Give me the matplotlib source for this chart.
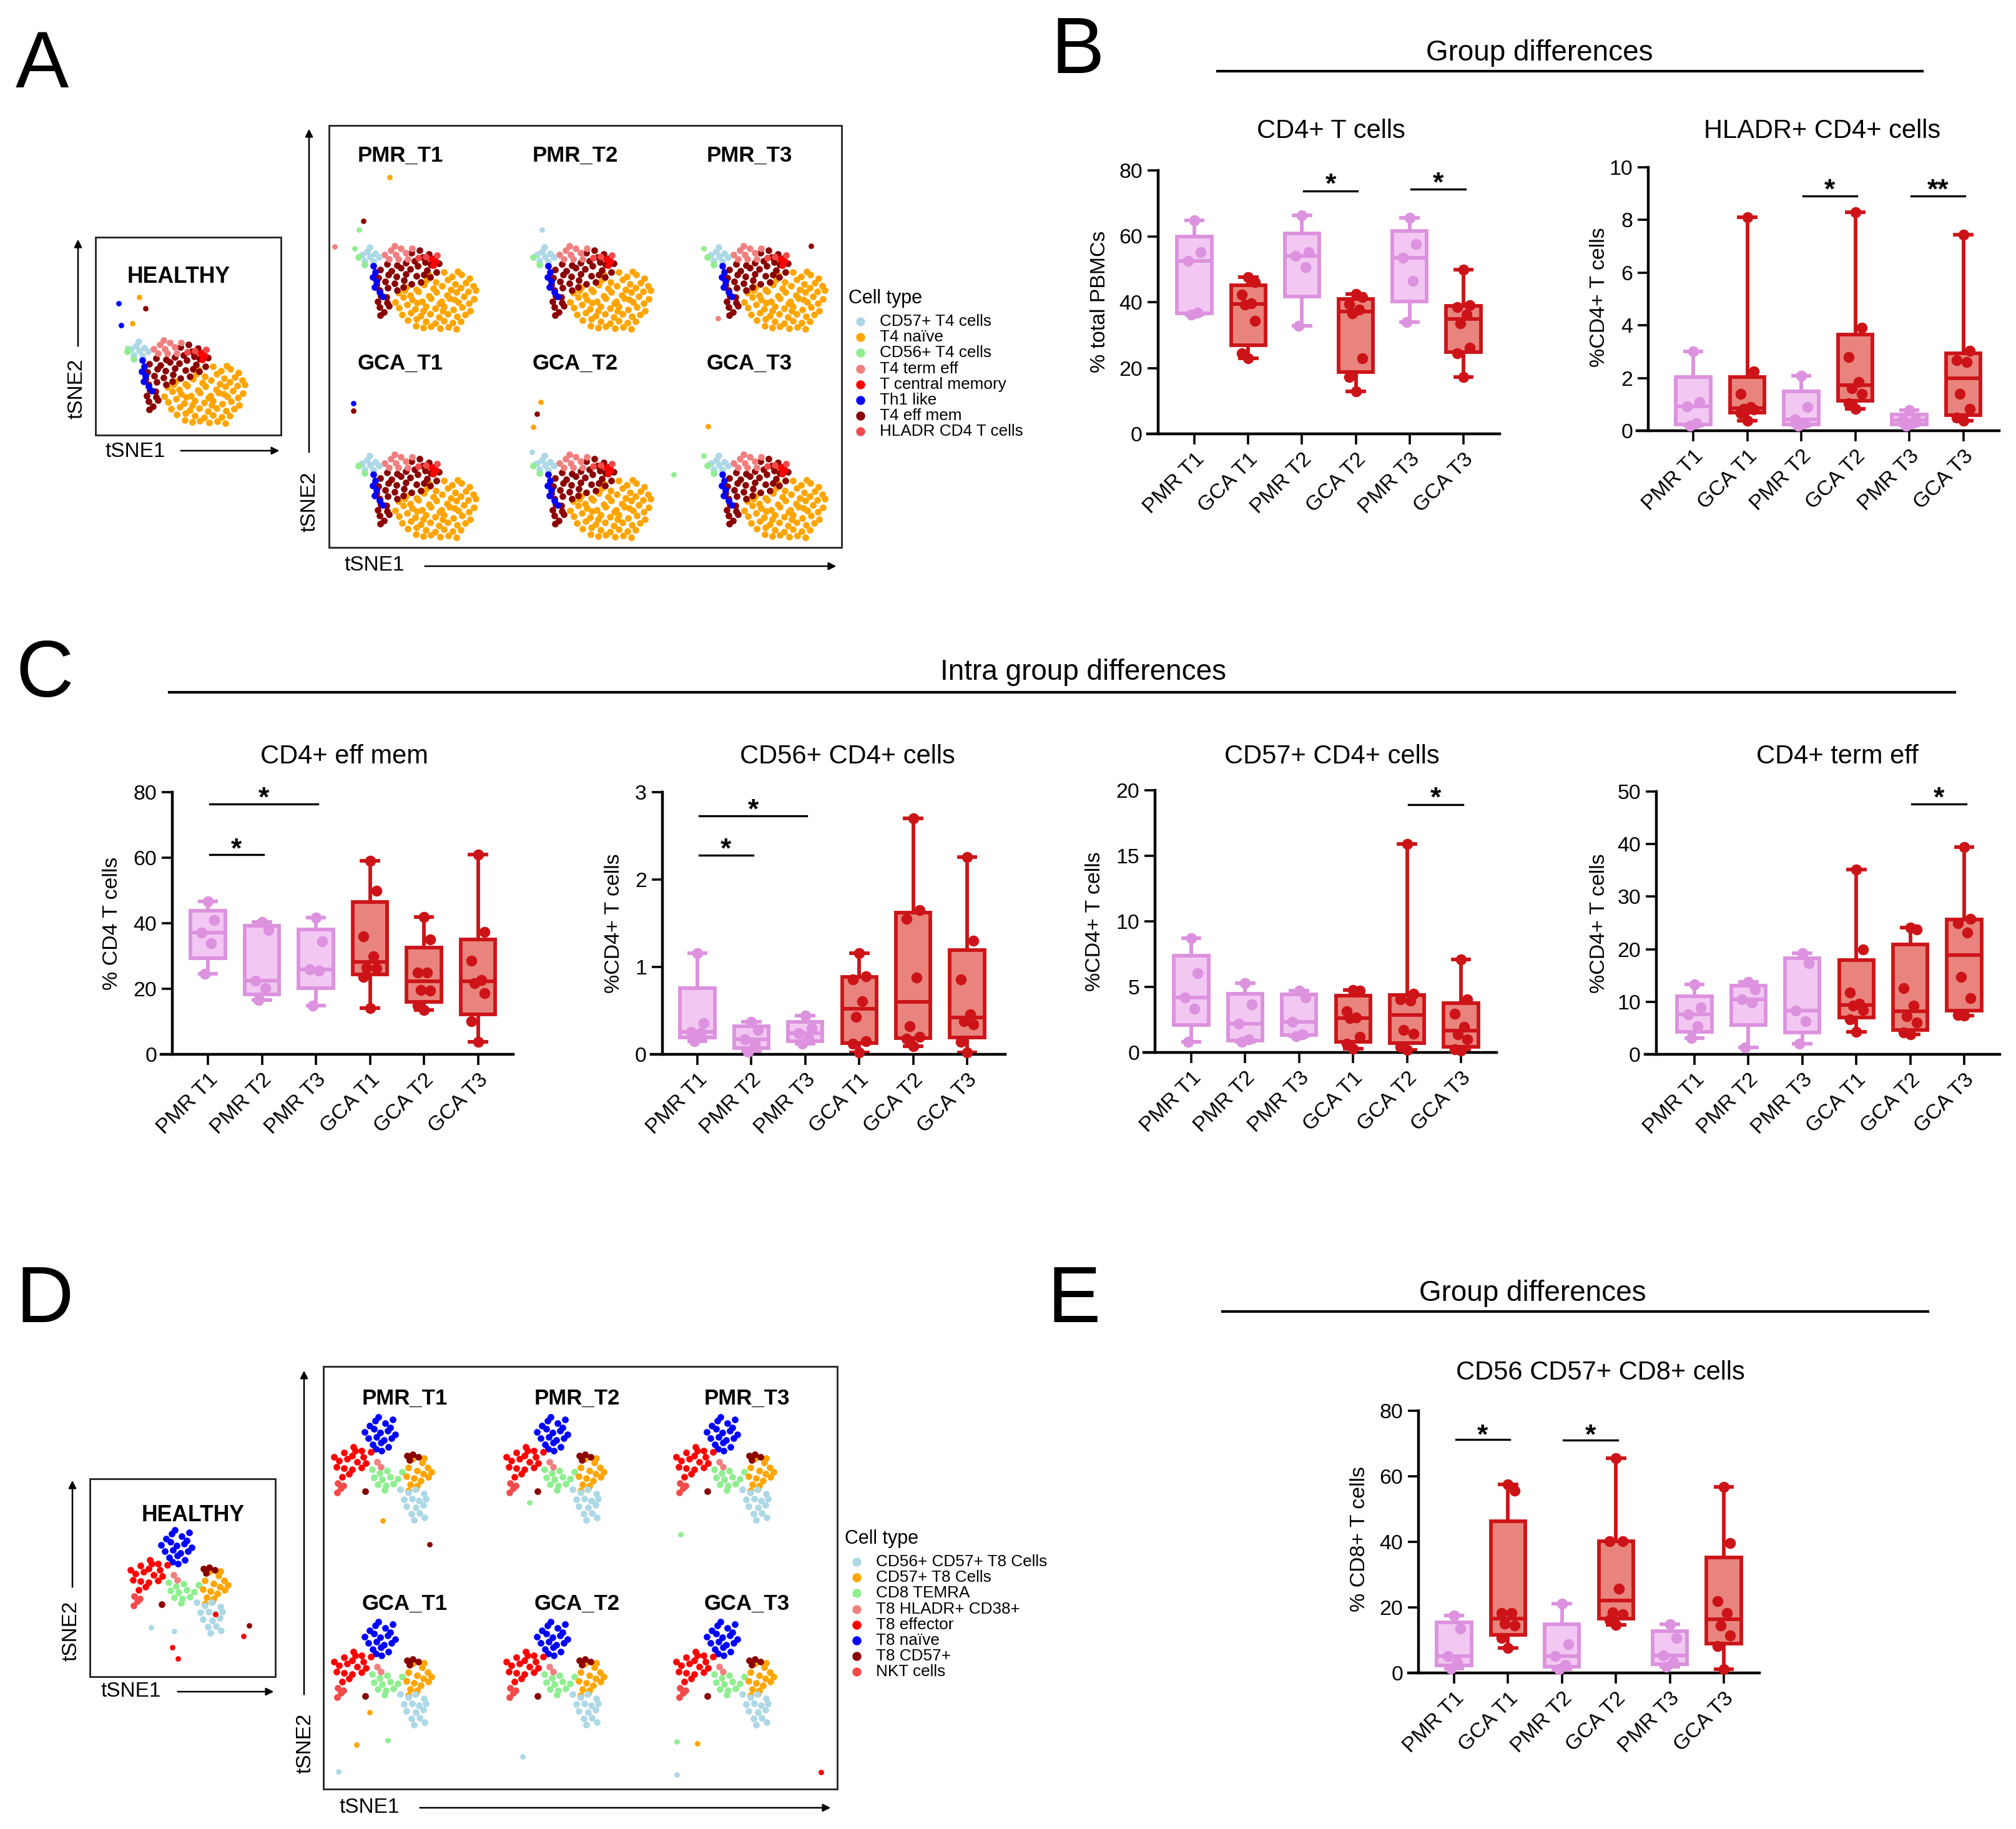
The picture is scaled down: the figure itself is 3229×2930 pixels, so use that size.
import numpy as np
import matplotlib.pyplot as plt
from matplotlib.patches import Rectangle, FancyArrowPatch
from matplotlib.lines import Line2D

plt.rcParams['font.family'] = ['Liberation Sans', 'DejaVu Sans']

W, H = 3229, 2930
DPI = 200

# ---------------- box plot data ----------------
grp_b = ["PMR T1", "GCA T1", "PMR T2", "GCA T2", "PMR T3", "GCA T3"]
grp_c = ["PMR T1", "PMR T2", "PMR T3", "GCA T1", "GCA T2", "GCA T3"]

cd4_tcells = [[64.8, 55.1, 52.6, 36.8, 36.2],
              [47.6, 46.0, 42.3, 39.6, 39.2, 34.4, 24.4, 23.0],
              [66.4, 55.2, 54.0, 50.7, 32.8],
              [42.5, 41.5, 39.4, 37.7, 36.5, 23.0, 17.3, 12.8],
              [65.5, 57.6, 53.4, 46.5, 33.9],
              [49.9, 39.0, 38.5, 36.2, 33.6, 26.2, 24.4, 17.3]]

hladr_cd4 = [[3.0, 1.09, 0.92, 0.28, 0.2],
             [8.1, 2.24, 1.39, 0.90, 0.82, 0.80, 0.66, 0.39],
             [2.08, 0.89, 0.43, 0.28, 0.2],
             [8.3, 3.92, 2.8, 1.84, 1.62, 1.40, 1.05, 0.83],
             [0.79, 0.42, 0.40, 0.28, 0.2],
             [7.45, 3.03, 2.67, 2.6, 1.39, 0.83, 0.50, 0.39]]

eff_mem = [[46.7, 40.9, 37.1, 34.0, 24.5],
           [40.4, 38.0, 22.5, 20.1, 16.6],
           [41.7, 34.5, 25.9, 25.5, 14.9],
           [59.0, 49.9, 36.0, 30.0, 26.4, 26.2, 23.7, 14.1],
           [41.9, 35.1, 25.0, 25.0, 19.7, 19.4, 14.9, 13.6],
           [61.0, 37.3, 28.5, 22.7, 21.7, 18.7, 10.1, 3.8]]

cd56_cd4 = [[1.16, 0.36, 0.26, 0.24, 0.15],
            [0.37, 0.28, 0.17, 0.12, 0.03],
            [0.44, 0.30, 0.24, 0.18, 0.12],
            [1.16, 0.89, 0.86, 0.61, 0.43, 0.15, 0.12, 0.02],
            [2.70, 1.65, 1.55, 0.88, 0.32, 0.20, 0.18, 0.09],
            [2.26, 1.30, 0.86, 0.46, 0.38, 0.34, 0.14, 0.02]]

cd57_cd4 = [[8.73, 6.04, 4.20, 3.32, 0.83],
            [5.28, 3.65, 2.19, 1.0, 0.8],
            [4.70, 4.20, 2.31, 1.38, 1.26],
            [4.78, 4.70, 3.14, 2.68, 2.60, 1.21, 0.68, 0.30],
            [15.9, 4.5, 4.05, 3.97, 1.71, 1.45, 0.45, 0.2],
            [7.1, 4.03, 2.97, 1.96, 1.38, 1.0, 0.25, 0.13]]

term_eff = [[13.3, 8.9, 7.55, 5.35, 3.1],
            [13.8, 12.4, 10.4, 9.9, 1.26],
            [19.2, 17.3, 8.3, 6.3, 2.0],
            [35.2, 20.0, 11.8, 9.6, 9.25, 8.4, 6.6, 4.28],
            [24.1, 23.7, 12.6, 9.25, 7.2, 6.0, 4.1, 3.8],
            [39.4, 25.8, 25.0, 23.1, 14.7, 10.7, 7.5, 7.4]]

cd8_cd56_cd57 = [[17.5, 13.5, 5.2, 3.2, 1.4],
                 [57.6, 55.6, 18.2, 18.2, 15.0, 14.4, 10.6, 7.7],
                 [21.1, 8.7, 5.2, 2.5, 1.15],
                 [65.5, 40.1, 40.1, 25.7, 18.5, 17.9, 16.2, 14.7],
                 [14.8, 10.6, 5.4, 3.5, 2.0],
                 [56.8, 39.6, 21.9, 18.2, 14.4, 11.5, 8.1, 1.15]]

# (group i, group j, bar height, star height, text)
sig_b1 = [(2, 3, 73.7, 78.2, '*'), (4, 5, 74.3, 78.6, '*')]
sig_b2 = [(2, 3, 8.9, 9.45, '*'), (4, 5, 8.9, 9.45, '**')]
sig_c1 = [(0, 1, 61.0, 65.1, '*'), (0, 2, 76.4, 80.7, '*')]
sig_c2 = [(0, 1, 2.28, 2.44, '*'), (0, 2, 2.73, 2.89, '*')]
sig_c3 = [(4, 5, 18.9, 20.0, '*')]
sig_c4 = [(4, 5, 47.6, 50.3, '*')]
sig_e = [(0, 1, 71.2, 75.0, '*'), (2, 3, 71.0, 75.0, '*')]

# ---------------- tSNE data (cluster layouts) ----------------
cd4_types = ["CD57+ T4 cells", "T4 naïve", "CD56+ T4 cells", "T4 term eff",
             "T central memory", "Th1 like", "T4 eff mem", "HLADR CD4 T cells"]
cd4_colors = ["#add8e6", "#ffa500", "#90ee90", "#f08080",
              "#ff0000", "#0000ff", "#8b0000", "#f24a4a"]

cd4_naive = [(16.3, 9.8), (17.6, 9.1), (19.1, 9.4), (20.4, 8.8), (18.5, 9.9),
             (13.6, 8.6), (15.0, 8.2), (16.9, 8.6), (18.1, 7.9), (19.8, 8.1), (21.0, 7.6),
             (10.3, 7.4), (11.9, 7.0), (13.1, 7.8), (14.6, 7.2), (16.0, 7.6), (17.4, 7.0), (19.0, 7.3), (20.2, 6.7),
             (9.0, 6.5), (10.9, 6.1), (12.2, 6.7), (13.9, 6.0), (15.1, 6.6), (16.8, 6.1), (18.3, 6.6), (19.5, 5.9), (21.1, 5.5),
             (8.5, 5.0), (9.8, 5.8), (11.2, 5.4), (12.8, 5.1), (14.2, 5.6), (15.9, 5.1), (17.2, 5.6), (18.6, 5.0), (20.3, 4.8),
             (9.1, 4.1), (10.4, 4.6), (11.7, 3.9), (13.4, 4.3), (14.9, 4.0), (16.3, 4.3), (17.8, 3.8), (19.2, 4.2), (20.5, 3.6),
             (9.6, 3.0), (11.0, 3.3), (12.6, 2.8), (14.1, 3.1), (15.5, 2.6), (16.9, 3.1), (18.4, 2.7), (19.7, 3.0),
             (10.5, 2.1), (11.9, 2.3), (13.4, 1.9), (14.9, 1.6), (16.3, 2.0), (17.7, 1.7), (19.0, 1.9),
             (11.8, 1.2), (13.0, 0.9), (14.2, 1.1), (15.7, 0.8), (17.0, 1.0), (18.3, 0.7), (16.1, 3.6), (12.0, 4.9),
             (14.0, 9.3), (21.4, 6.9), (10.0, 6.9), (15.6, 4.8), (18.0, 5.4), (13.0, 3.6)]
cd4_effmem = [(11.1, 12.9), (12.4, 13.3), (13.9, 12.7), (14.7, 12.0), (12.9, 12.2),
              (11.6, 11.6), (13.3, 11.4), (14.2, 11.0), (15.5, 11.2), (7.2, 11.1), (8.8, 10.9), (10.2, 11.3),
              (6.1, 10.2), (7.9, 10.0), (9.4, 10.5), (10.9, 10.3), (12.1, 10.8), (13.6, 10.1), (15.1, 9.8),
              (5.8, 8.9), (7.4, 9.4), (8.7, 9.1), (10.2, 9.5), (11.9, 9.2), (13.1, 9.4), (14.1, 9.0),
              (5.5, 7.8), (6.9, 8.3), (8.4, 8.0), (9.9, 8.5), (11.1, 7.9), (12.6, 8.2),
              (6.0, 6.9), (7.3, 7.3), (8.8, 6.9), (9.8, 7.4),
              (6.2, 6.0), (7.1, 5.8), (5.7, 5.1), (7.2, 4.9), (6.0, 4.2), (7.5, 4.4), (6.7, 3.4), (6.1, 2.9)]
cd4_termeff = [(6.8, 12.6), (7.8, 13.3), (8.6, 12.6), (9.4, 13.6), (10.2, 12.9),
               (7.5, 11.9), (9.0, 11.9), (10.5, 11.9), (11.2, 13.6), (8.4, 14.0)]
cd4_cd57 = [(3.2, 12.6), (4.0, 13.1), (4.5, 12.3), (5.3, 12.8), (3.6, 11.6), (5.0, 11.5), (5.9, 12.2), (4.4, 13.8)]
cd4_th1 = [(5.0, 10.8), (5.3, 9.8), (4.9, 9.0), (5.5, 8.3), (5.2, 7.4), (6.0, 6.6), (6.5, 5.9)]
cd4_tcm = [(14.3, 11.9), (15.0, 11.5), (14.6, 10.9)]
cd4_hladr = [(13.4, 12.3), (15.2, 12.5), (12.2, 12.1)]
cd4_cd56 = [(3.6, 11.0), (2.6, 12.2)]
# drawing order -> legend index
cd4_layers = [(cd4_naive, 1), (cd4_effmem, 6), (cd4_termeff, 3), (cd4_cd57, 0),
              (cd4_th1, 5), (cd4_tcm, 4), (cd4_hladr, 7), (cd4_cd56, 2)]

# stray cells per sample (x, y, type index)
cd4_out_healthy = [(1.2, 19.9, 5), (4.5, 20.9, 1), (5.5, 19.1, 6), (1.6, 16.4, 5), (3.4, 16.7, 1), (2.6, 12.7, 2)]
cd4_out = {"PMR_T1": [(7.6, 25.0, 1), (3.4, 18.0, 6), (2.7, 16.6, 2), (2.0, 13.6, 2), (-1.2, 13.9, 3)],
           "PMR_T2": [(4.0, 16.6, 0)],
           "PMR_T3": [(19.2, 14.0, 6), (2.0, 13.6, 2), (4.3, 2.4, 3)],
           "GCA_T1": [(1.8, 22.2, 5), (1.8, 21.0, 6)],
           "GCA_T2": [(3.8, 22.4, 1), (3.2, 20.5, 6), (2.6, 18.4, 1), (25.1, 10.8, 2), (2.4, 14.4, 0)],
           "GCA_T3": [(2.7, 18.5, 1), (2.0, 13.8, 2)]}

cd8_types = ["CD56+ CD57+ T8 Cells", "CD57+ T8 Cells", "CD8 TEMRA", "T8 HLADR+ CD38+",
             "T8 effector", "T8 naïve", "T8 CD57+", "NKT cells"]
cd8_colors = ["#add8e6", "#ffa500", "#90ee90", "#f08080",
              "#ff0000", "#0000ff", "#8b0000", "#f24a4a"]

cd8_naive = [(7.2, 20.6), (8.1, 21.4), (9.7, 21.0), (10.5, 20.3), (8.6, 22.0), (10.9, 21.6),
             (6.4, 19.6), (7.9, 20.1), (8.9, 19.5), (10.1, 19.8), (11.3, 19.2),
             (7.0, 18.6), (8.3, 18.8), (9.5, 18.3), (10.7, 18.6),
             (7.7, 17.6), (9.0, 17.9), (10.2, 17.2), (9.1, 16.6), (8.2, 16.9)]
cd8_effector = [(4.6, 17.2), (5.9, 16.6), (3.1, 16.3), (4.4, 15.8), (6.2, 15.6), (7.4, 16.4),
                (2.3, 15.0), (3.6, 15.3), (5.2, 14.8), (6.6, 14.6), (1.5, 15.6),
                (1.9, 14.0), (3.1, 13.8), (4.4, 13.6), (5.9, 13.9), (3.9, 12.9), (2.8, 12.4), (4.9, 16.6)]
cd8_hladr = [(8.4, 14.8), (9.0, 14.0)]
cd8_temra = [(7.6, 13.6), (8.8, 13.0), (10.0, 13.4), (7.9, 12.3), (9.2, 12.0), (10.5, 12.4),
             (11.7, 12.1), (8.5, 11.2), (9.8, 11.0), (11.0, 11.3), (9.6, 10.3), (12.4, 13.2)]
cd8_cd57 = [(14.1, 15.3), (15.6, 14.7), (16.5, 13.9), (13.4, 13.9), (14.8, 13.4), (15.8, 12.9),
            (17.1, 13.2), (13.1, 12.5), (14.3, 12.2), (15.4, 11.8), (16.6, 12.4), (13.7, 11.2),
            (14.8, 11.0), (13.4, 10.2), (14.6, 10.5), (15.9, 15.4)]
cd8_t8cd57 = [(13.2, 15.8), (14.1, 16.0), (15.0, 15.6), (13.6, 15.1), (6.5, 10.1)]
cd8_cd56cd57 = [(12.1, 10.4), (13.4, 9.9), (14.5, 10.4), (15.9, 9.7), (12.7, 8.8), (14.0, 8.9),
                (15.1, 8.6), (16.2, 8.9), (13.1, 7.7), (14.6, 7.5), (15.8, 7.9), (13.9, 6.5),
                (15.2, 6.6), (14.3, 5.5), (16.0, 5.9)]
cd8_nkt = [(2.1, 11.4), (2.6, 10.6), (2.0, 9.9), (3.0, 11.0)]
cd8_layers = [(cd8_naive, 5), (cd8_effector, 4), (cd8_temra, 2), (cd8_cd57, 1), (cd8_t8cd57, 6),
              (cd8_hladr, 3), (cd8_cd56cd57, 0), (cd8_nkt, 7)]

cd8_out_healthy = [(4.8, 6.4, 0), (8.5, 5.8, 0), (8.2, 3.2, 4), (9.1, 1.4, 4), (20.5, 6.7, 6), (19.6, 5.0, 4), (15.1, 8.5, 4)]
cd8_out = {"PMR_T1": [(9.3, 5.4, 1), (16.8, 1.6, 6)],
           "PMR_T2": [(5.2, 8.35, 2)],
           "PMR_T3": [(2.15, 3.2, 2)],
           "GCA_T1": [(5.1, 2.3, 1), (10.1, 3.0, 2), (2.2, -2.0, 0), (7.2, 7.5, 1)],
           "GCA_T2": [(4.1, 0.4, 0)],
           "GCA_T3": [(1.6, 2.85, 2), (4.9, 2.5, 1), (1.6, -2.5, 0), (24.7, -2.1, 4)]}

samples = [["PMR_T1", "PMR_T2", "PMR_T3"], ["GCA_T1", "GCA_T2", "GCA_T3"]]

PMR_FACE, PMR_EDGE = "#f2c8f2", "#dc92de"
GCA_FACE, GCA_EDGE = "#e8847d", "#cc1418"

fig = plt.figure(figsize=(W / DPI, H / DPI), dpi=DPI)


def fx(x):
    return x / W


def fy(y):
    return 1 - y / H


def ftext(x, y, s, **kw):
    fig.text(fx(x), fy(y), s, **kw)


def hline(x1, x2, y, lw=1.5):
    fig.add_artist(Line2D([fx(x1), fx(x2)], [fy(y), fy(y)], transform=fig.transFigure, color='k', lw=lw))


def arrow(x1, y1, x2, y2):
    fig.add_artist(FancyArrowPatch((fx(x1), fy(y1)), (fx(x2), fy(y2)), transform=fig.transFigure,
                                   arrowstyle='-|>', mutation_scale=9, lw=0.9, color='k'))


def frame(x1, y1, x2, y2):
    fig.add_artist(Rectangle((fx(x1), fy(y2)), (x2 - x1) / W, (y2 - y1) / H, transform=fig.transFigure,
                             fill=False, lw=1.0, ec='#222222'))


def box_panel(spine_x, x_left, x_right, c0, sp, top, bottom, labels, data, ymax, ystep,
              title, title_x, title_y, ylabel, yl_x, yl_y, sig):
    ax = fig.add_axes([fx(x_left), fy(bottom), (x_right - x_left) / W, (bottom - top) / H])
    ax.set_xlim((x_left - c0) / sp, (x_right - c0) / sp)
    ax.set_ylim(0, ymax)
    ax.spines['left'].set_position(('data', (spine_x - c0) / sp))
    ax.spines['top'].set_visible(False)
    ax.spines['right'].set_visible(False)
    for s in ['left', 'bottom']:
        ax.spines[s].set_linewidth(1.6)
    ax.patch.set_visible(False)
    ax.tick_params(axis='both', width=1.3, length=6, labelsize=12.2, pad=3)
    ax.set_yticks(np.arange(0, ymax + ystep / 2, ystep))
    ax.set_xticks(range(len(labels)))
    ax.set_xticklabels(labels, rotation=45, ha='right', rotation_mode='anchor')
    jit = [0.0, 0.12, -0.12, 0.06, -0.06, 0.12, -0.12, 0.0]
    for i, vals in enumerate(data):
        v = np.array(vals, float)
        q1, med, q3 = np.percentile(v, [25, 50, 75], method='weibull')
        st = dict(med=med, q1=q1, q3=q3, whislo=v.min(), whishi=v.max(), fliers=[])
        if labels[i].startswith('PMR'):
            fc, ec = PMR_FACE, PMR_EDGE
        else:
            fc, ec = GCA_FACE, GCA_EDGE
        ax.bxp([st], positions=[i], widths=0.64, capwidths=0.31, patch_artist=True, showfliers=False,
               boxprops=dict(facecolor=fc, edgecolor=ec, linewidth=2.1),
               medianprops=dict(color=ec, linewidth=2.1),
               whiskerprops=dict(color=ec, linewidth=2.1),
               capprops=dict(color=ec, linewidth=2.1), manage_ticks=False)
        ax.scatter(i + np.array(jit[:len(v)]), v, s=40, color=ec, linewidths=0, zorder=3, clip_on=False)
    for i, j, yb, ys, txt in sig:
        ax.plot([i + 0.03, j + 0.03], [yb, yb], color='k', lw=1.2, clip_on=False)
        ax.annotate(txt, ((i + j) / 2 + 0.03, ys), xytext=(0, -0.58 * 16), textcoords='offset points',
                    ha='center', va='baseline', fontsize=16, fontweight='bold', annotation_clip=False)
    ftext(title_x, title_y, title, ha='center', va='baseline', fontsize=15)
    ftext(yl_x, yl_y, ylabel, rotation=90, ha='center', va='center', fontsize=12.2)
    return ax


def tsne_sub(left, bottom, layers, colors, outliers):
    ax = fig.add_axes([fx(left), fy(bottom), 240 / W, 300 / H])
    ax.set_xlim(0, 24)
    ax.set_ylim(0, 30)
    ax.axis('off')
    for pts, k in layers:
        a = np.array(pts)
        ax.scatter(a[:, 0], a[:, 1], s=15, color=colors[k], linewidths=0, clip_on=False)
    for x, y, k in outliers:
        ax.scatter([x], [y], s=10, color=colors[k], linewidths=0, clip_on=False)
    return ax


def legend(x, y_title, y0, step, names, colors):
    ftext(x, y_title, "Cell type", ha='left', va='baseline', fontsize=11)
    for i, (n, c) in enumerate(zip(names, colors)):
        fig.add_artist(Line2D([fx(x + 19)], [fy(y0 + i * step)], transform=fig.transFigure,
                              marker='o', ms=5.2, color=c, lw=0, mew=0))
        ftext(x + 50, y0 + i * step, n, ha='left', va='center', fontsize=9.4)


# ---------------- panel letters ----------------
for letter, lx, ly in [("A", 25, 140), ("B", 1684, 117), ("C", 26, 1116), ("D", 25, 2118), ("E", 1678, 2118)]:
    ftext(lx, ly, letter, ha='left', va='baseline', fontsize=46)

# ---------------- panel A (CD4 tSNE) ----------------
frame(153, 380, 450, 697)
ftext(286, 453, "HEALTHY", ha='center', va='baseline', fontsize=12.8, fontweight='bold')
tsne_sub(178, 685, cd4_layers, cd4_colors, cd4_out_healthy)
arrow(125, 560, 125, 378)
ftext(123, 623, "tSNE2", rotation=90, ha='center', va='center', fontsize=12)
ftext(217, 723, "tSNE1", ha='center', va='center', fontsize=12)
arrow(284, 722, 453, 722)

frame(527, 201, 1348, 877)
arrow(495, 730, 495, 201)
ftext(496, 804, "tSNE2", rotation=90, ha='center', va='center', fontsize=12)
ftext(600, 905, "tSNE1", ha='center', va='center', fontsize=12)
arrow(675, 907, 1345, 907)
col_x = [641, 921, 1200]
for r, row in enumerate(samples):
    for c, name in enumerate(row):
        ftext(col_x[c], 259 + r * 333, name, ha='center', va='baseline', fontsize=12.5, fontweight='bold')
        tsne_sub(col_x[c] - 93, 534 + r * 334, cd4_layers, cd4_colors, cd4_out[name])
legend(1359, 486, 515, 25.2, cd4_types, cd4_colors)

# ---------------- panel B ----------------
ftext(2466, 97, "Group differences", ha='center', va='baseline', fontsize=16.5)
hline(1950, 3079, 114)
box_panel(1855, 1838, 2402, 1913, 86.2, 273, 695, grp_b, cd4_tcells, 80, 20,
          "CD4+ T cells", 2132, 221, "% total PBMCs", 1761, 483, sig_b1)
box_panel(2640, 2622, 3202, 2712, 86.5, 268, 690, grp_b, hladr_cd4, 10, 2,
          "HLADR+ CD4+ cells", 2919, 221, "%CD4+ T cells", 2562, 476, sig_b2)

# ---------------- panel C ----------------
ftext(1735, 1089, "Intra group differences", ha='center', va='baseline', fontsize=16.5)
hline(271, 3131, 1109)
box_panel(276, 258, 822, 333, 86.5, 1269, 1689, grp_c, eff_mem, 80, 20,
          "CD4+ eff mem", 551, 1223, "% CD4 T cells", 180, 1479, sig_c1)
box_panel(1061, 1043, 1610, 1117, 86.4, 1269, 1689, grp_c, cd56_cd4, 3, 1,
          "CD56+ CD4+ cells", 1357, 1223, "%CD4+ T cells", 984, 1479, sig_c2)
box_panel(1850, 1832, 2397, 1908, 86.4, 1266, 1686, grp_c, cd57_cd4, 20, 5,
          "CD57+ CD4+ cells", 2133, 1223, "%CD4+ T cells", 1754, 1476, sig_c3)
box_panel(2653, 2635, 3203, 2714, 86.4, 1268, 1689, grp_c, term_eff, 50, 10,
          "CD4+ term eff", 2943, 1223, "%CD4+ T cells", 2561, 1479, sig_c4)

# ---------------- panel D (CD8 tSNE) ----------------
frame(144, 2369, 441, 2686)
ftext(309, 2437, "HEALTHY", ha='center', va='baseline', fontsize=12.8, fontweight='bold')
tsne_sub(194, 2671, cd8_layers, cd8_colors, cd8_out_healthy)
arrow(116, 2548, 116, 2366)
ftext(114, 2613, "tSNE2", rotation=90, ha='center', va='center', fontsize=12)
ftext(210, 2710, "tSNE1", ha='center', va='center', fontsize=12)
arrow(279, 2710, 444, 2710)

frame(518, 2189, 1341, 2866)
arrow(487, 2720, 487, 2190)
ftext(489, 2793, "tSNE2", rotation=90, ha='center', va='center', fontsize=12)
ftext(592, 2895, "tSNE1", ha='center', va='center', fontsize=12)
arrow(667, 2896, 1336, 2896)
col_x8 = [648, 924, 1196]
for r, row in enumerate(samples):
    for c, name in enumerate(row):
        ftext(col_x8[c], 2250 + r * 329, name, ha='center', va='baseline', fontsize=12.5, fontweight='bold')
        tsne_sub(col_x8[c] - 128, 2490 + r * 328, cd8_layers, cd8_colors, cd8_out[name])
legend(1353, 2473, 2502, 25.2, cd8_types, cd8_colors)

# ---------------- panel E ----------------
ftext(2455, 2084, "Group differences", ha='center', va='baseline', fontsize=16.5)
hline(1958, 3088, 2101)
box_panel(2272, 2256, 2818, 2329, 86.4, 2260, 2680, grp_b, cd8_cd56_cd57, 80, 20,
          "CD56 CD57+ CD8+ cells", 2563, 2210, "% CD8+ T cells", 2177, 2465, sig_e)

fig.savefig("out.png", dpi=DPI)
